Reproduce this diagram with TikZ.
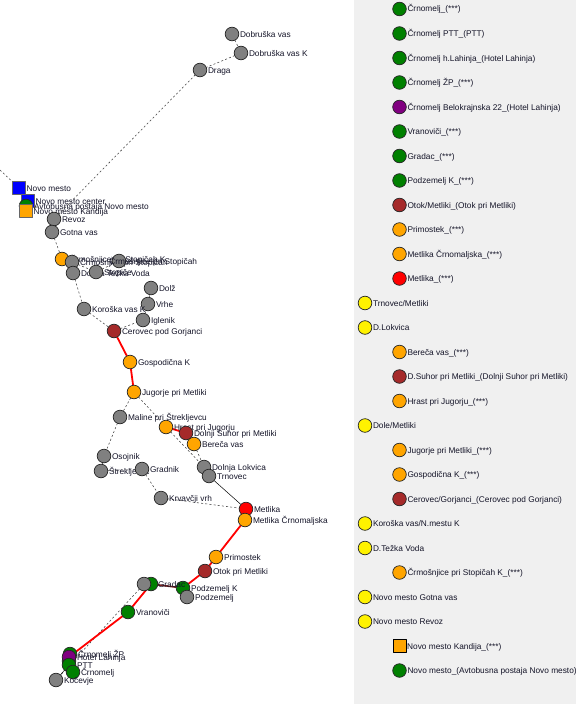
\documentclass[tikz,border=0pt]{standalone}
\usepackage{fontspec}
\setmainfont{Liberation Sans}
\usetikzlibrary{backgrounds}
\definecolor{RoutePanel}{HTML}{F0F0F0}
\definecolor{RouteOrange}{HTML}{FFA500}
\definecolor{RouteGreen}{HTML}{008000}
\definecolor{RouteGray}{HTML}{808080}
\definecolor{RouteBrown}{HTML}{A52A2A}
\definecolor{RoutePurple}{HTML}{800080}
\definecolor{RouteInk}{HTML}{141428}
\tikzset{
    route/diagram/.style={
        x=1pt, y=-1pt,
        font=\fontsize{8.3}{10}\selectfont,
        text=RouteInk,
        line cap=round,
        line join=round
    },
    route/label/.style={
        inner sep=0pt, outer sep=0pt, label distance=1.2pt,
        text height=7pt, text depth=1pt
    },
    route/name/.style={label={[route/label]right:#1}},
    route/stop/.style={
        circle, draw=black!85, line width=0.7pt, inner sep=0pt,
        outer sep=0pt, minimum size=13.6pt
    },
    route/square/.style={
        rectangle, draw=black!60, line width=0.6pt, inner sep=0pt,
        outer sep=0pt, minimum size=13pt
    },
    route/gray/.style={route/stop, fill=RouteGray},
    route/orange/.style={route/stop, fill=RouteOrange},
    route/green/.style={route/stop, fill=RouteGreen},
    route/brown/.style={route/stop, fill=RouteBrown},
    route/red/.style={route/stop, fill=red},
    route/purple/.style={route/stop, fill=RoutePurple},
    route/yellow/.style={route/stop, fill=yellow},
    route/walk/.style={draw=black!75, line width=0.55pt, dash pattern=on 2pt off 2.2pt},
    route/thin/.style={draw=black, line width=0.5pt},
    route/main/.style={draw=red, line width=1.8pt},
    route/dark/.style={draw=RouteBrown!70!black, line width=1.6pt}
}

\begin{document}
\begin{tikzpicture}[route/diagram]
    \useasboundingbox (0,0) rectangle (576,704);
    \fill[RoutePanel] (354,0) rectangle (576,704);
    % upper branch
    \coordinate (offmap) at (0,170);
    \node[route/gray, route/name={Dobruška vas}] (dobruska) at (232,34) {};
    \node[route/gray, route/name={Dobruška vas K}] (dobruskak) at (241,53) {};
    \node[route/gray, route/name={Draga}] (draga) at (200,70) {};
    \node[route/square, fill=blue, route/name={Novo mesto}] (novomesto) at (19,188) {};
    \node[route/square, fill=blue, route/name={Novo mesto center}] (center) at (28,201) {};
    \node[route/green, route/name={Avtobusna postaja Novo mesto}] (avtobusna) at (26,206) {};
    \node[route/square, fill=RouteOrange, route/name={Novo mesto Kandija}] (kandija) at (26,211) {};
    \node[route/gray, route/name={Revoz}] (revoz) at (54,219) {};
    \node[route/gray, route/name={Gotna vas}] (gotna) at (52,232) {};
    \node[route/orange, route/name={Črmošnjice pri Stopičah K}] (crmosnjicek) at (62,259) {};
    \node[route/gray, route/name={Črmošnjice pri Stopičah}] (crmosnjice) at (72,262) {};
    \node[route/gray, route/name={Dolnja Težka Voda}] (tezka) at (73,273) {};
    \node[route/gray, route/name={Stopiče}] (stopice) at (96,272) {};
    \node[route/gray] (stopicek) at (119,261) {};
    \node[route/label, anchor=east] (stopicektext) at (197,261) {Črmošnjice pri Stopičah};
    \node[route/gray, route/name={Dolž}] (dolz) at (151,288) {};
    \node[route/gray, route/name={Vrhe}] (vrhe) at (148,304) {};
    \node[route/gray, route/name={Iglenik}] (iglenik) at (143,320) {};
    \node[route/gray, route/name={Koroška vas K}] (koroska) at (84,309) {};
    \node[route/brown, route/name={Cerovec pod Gorjanci}] (cerovec) at (114,331) {};
    % middle branch
    \node[route/orange, route/name={Gospodična K}] (gospodicna) at (130,362) {};
    \node[route/orange, route/name={Jugorje pri Metliki}] (jugorje) at (134,392) {};
    \node[route/gray, route/name={Maline pri Štrekljevcu}] (maline) at (120,417) {};
    \node[route/orange, route/name={Hrast pri Jugorju}] (hrast) at (166,427) {};
    \node[route/brown, route/name={Dolnji Suhor pri Metliki}] (suhor) at (186,433) {};
    \node[route/orange, route/name={Bereča vas}] (bereca) at (194,444) {};
    \node[route/gray, route/name={Osojnik}] (osojnik) at (104,456) {};
    \node[route/gray, route/name={Štrekljevec}] (streklevec) at (101,471) {};
    \node[route/gray, route/name={Gradnik}] (gradnik) at (142,469) {};
    \node[route/gray, route/name={Dolnja Lokvica}] (lokvica) at (204,467) {};
    \node[route/gray, route/name={Trnovec}] (trnovec) at (209,476) {};
    \node[route/gray, route/name={Krvavčji vrh}] (krvavcji) at (161,498) {};
    \node[route/red, route/name={Metlika}] (metlika) at (246,509) {};
    \node[route/orange, route/name={Metlika Črnomaljska}] (crnomaljska) at (245,520) {};
    % lower branch
    \node[route/orange, route/name={Primostek}] (primostek) at (216,557) {};
    \node[route/brown, route/name={Otok pri Metliki}] (otok) at (205,571) {};
    \node[route/green] (gradac) at (151,584) {};
    \node[route/gray] (gradacgray) at (144,584) {};
    \node[route/green, route/name={Podzemelj K}] (podzemeljk) at (183,588) {};
    \node[route/gray, route/name={Podzemelj}] (podzemelj) at (187,597) {};
    \node[route/label, anchor=west] (gradactext) at (158,584) {Gradac};
    \node[route/green, route/name={Vranoviči}] (vranovici) at (128,612) {};
    \node[route/green, route/name={Črnomelj ŽP}] (zp) at (70,654) {};
    \node[route/green] (lahinja) at (69,661) {};
    \node[route/purple, route/name={Hotel Lahinja}] (belokrajnska) at (69,657) {};
    \node[route/green, route/name={PTT}] (ptt) at (69,665) {};
    \node[route/green, route/name={Črnomelj}] (crnomelj) at (73,672) {};
    \node[route/gray, route/name={Kočevje}] (kocevje) at (56,680) {};
    % connectors, under the stops
    \begin{scope}[on background layer]
        \draw[route/walk] (offmap) -- (novomesto);
        \draw[route/walk] (dobruska) -- (dobruskak) -- (draga) -- (revoz);
        \draw[route/walk] (revoz) -- (gotna) -- (crmosnjicek) -- (crmosnjice)
            -- (stopice) -- (stopicek);
        \draw[route/walk] (crmosnjice) -- (tezka) -- (koroska) -- (cerovec);
        \draw[route/walk] (cerovec) -- (iglenik) -- (vrhe) -- (dolz);
        \draw[route/walk] (jugorje) -- (maline) -- (osojnik) -- (streklevec) -- (gradnik)
            -- (krvavcji) -- (metlika);
        \draw[route/walk] (jugorje) -- (hrast) -- (lokvica);
        \draw[route/walk] (bereca) -- (lokvica);
        \draw[route/thin] (lokvica) -- (trnovec) -- (metlika);
        \draw[route/walk] (gradacgray) -- (kocevje);
        \draw[route/main] (cerovec) -- (gospodicna) -- (jugorje);
        \draw[route/main] (hrast) -- (suhor);
        \draw[route/main] (metlika) -- (crnomaljska) -- (primostek) -- (otok) -- (podzemeljk);
        \draw[route/dark] (podzemeljk) -- (gradac);
        \draw[route/main] (gradac) -- (vranovici) -- (belokrajnska);
        \draw[route/thin] (ptt) -- (kocevje);
    \end{scope}
    % legend
    \node[route/green, route/name={Črnomelj\_(***)}] (rowa) at (399.5,9) {};
    \node[route/green, route/name={Črnomelj PTT\_(PTT)}] (rowb) at (399.5,33.5) {};
    \node[route/green, route/name={Črnomelj h.Lahinja\_(Hotel Lahinja)}] (rowc) at (399.5,58) {};
    \node[route/green, route/name={Črnomelj ŽP\_(***)}] (rowd) at (399.5,82.5) {};
    \node[route/purple, route/name={Črnomelj Belokrajnska 22\_(Hotel Lahinja)}] (rowe) at (399.5,107) {};
    \node[route/green, route/name={Vranoviči\_(***)}] (rowf) at (399.5,131.5) {};
    \node[route/green, route/name={Gradac\_(***)}] (rowg) at (399.5,156) {};
    \node[route/green, route/name={Podzemelj K\_(***)}] (rowh) at (399.5,180.5) {};
    \node[route/brown, route/name={Otok/Metliki\_(Otok pri Metliki)}] (rowi) at (399.5,205) {};
    \node[route/orange, route/name={Primostek\_(***)}] (rowj) at (399.5,229.5) {};
    \node[route/orange, route/name={Metlika Črnomaljska\_(***)}] (rowk) at (399.5,254) {};
    \node[route/red, route/name={Metlika\_(***)}] (rowl) at (399.5,278.5) {};
    \node[route/yellow, route/name={Trnovec/Metliki}] (rowm) at (365,303) {};
    \node[route/yellow, route/name={D.Lokvica}] (rown) at (365,327.5) {};
    \node[route/orange, route/name={Bereča vas\_(***)}] (rowo) at (399.5,352) {};
    \node[route/brown, route/name={D.Suhor pri Metliki\_(Dolnji Suhor pri Metliki)}] (rowp) at (399.5,376.5) {};
    \node[route/orange, route/name={Hrast pri Jugorju\_(***)}] (rowq) at (399.5,401) {};
    \node[route/yellow, route/name={Dole/Metliki}] (rowr) at (365,425.5) {};
    \node[route/orange, route/name={Jugorje pri Metliki\_(***)}] (rows) at (399.5,450) {};
    \node[route/orange, route/name={Gospodična K\_(***)}] (rowt) at (399.5,474.5) {};
    \node[route/brown, route/name={Cerovec/Gorjanci\_(Cerovec pod Gorjanci)}] (rowu) at (399.5,499) {};
    \node[route/yellow, route/name={Koroška vas/N.mestu K}] (rowv) at (365,523.5) {};
    \node[route/yellow, route/name={D.Težka Voda}] (roww) at (365,548) {};
    \node[route/orange, route/name={Črmošnjice pri Stopičah K\_(***)}] (rowx) at (399.5,572.5) {};
    \node[route/yellow, route/name={Novo mesto Gotna vas}] (rowy) at (365,597) {};
    \node[route/yellow, route/name={Novo mesto Revoz}] (rowz) at (365,621.5) {};
    \node[route/square, draw=black, fill=RouteOrange, route/name={Novo mesto Kandija\_(***)}] (rowkandija) at (399.5,646) {};
    \node[route/green, route/name={Novo mesto\_(Avtobusna postaja Novo mesto)}] (rowavtobusna) at (399.5,670.5) {};
\end{tikzpicture}
\end{document}
